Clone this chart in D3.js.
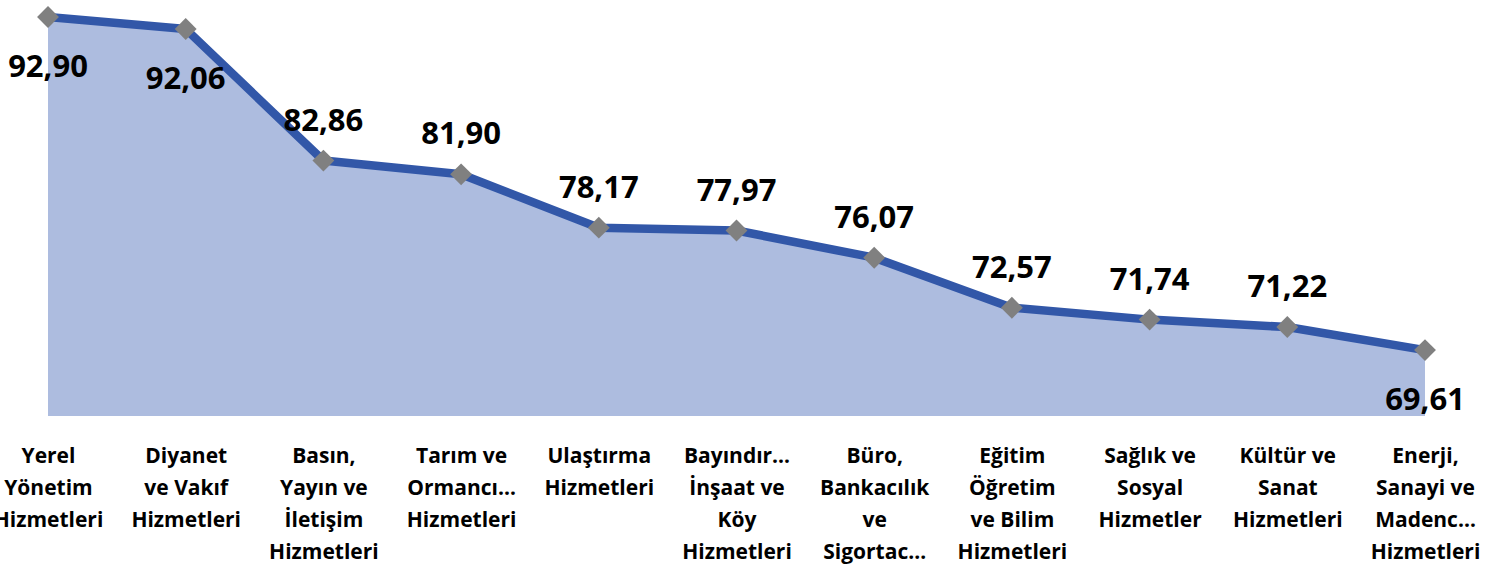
<!DOCTYPE html>
<html><head><meta charset="utf-8">
<script src="https://cdn.jsdelivr.net/npm/d3@7"></script>
<style>
html,body{margin:0;padding:0;background:#fff;}
svg{display:block;font-family:"Open Sans","Noto Sans",sans-serif;font-weight:700;}
</style></head>
<body>
<svg id="chart" width="1496" height="566"></svg>
<script>
const categories = [
  "Yerel|Yönetim|Hizmetleri",
  "Diyanet|ve Vakıf|Hizmetleri",
  "Basın,|Yayın ve|İletişim|Hizmetleri",
  "Tarım ve|Ormancı…|Hizmetleri",
  "Ulaştırma|Hizmetleri",
  "Bayındır…|İnşaat ve|Köy|Hizmetleri",
  "Büro,|Bankacılık|ve|Sigortac…",
  "Eğitim|Öğretim|ve Bilim|Hizmetleri",
  "Sağlık ve|Sosyal|Hizmetler",
  "Kültür ve|Sanat|Hizmetleri",
  "Enerji,|Sanayi ve|Madenc…|Hizmetleri"
];
const values = [92.90, 92.06, 82.86, 81.90, 78.17, 77.97, 76.07, 72.57, 71.74, 71.22, 69.61];
const valueLabels = ["92,90","92,06","82,86","81,90","78,17","77,97","76,07","72,57","71,74","71,22","69,61"];
const labelBelow = [true, true, false, false, false, false, false, false, false, false, true];
const yDomain = [65, 95];

const svg = d3.select("#chart");
const x = d3.scalePoint().domain(d3.range(categories.length)).range([48, 1425]);
const y = d3.scaleLinear().domain(yDomain).range([416, 416 - 30 * 14.3]);

const area = d3.area().x((d,i)=>x(i)).y0(y(yDomain[0])).y1(d=>y(d));
svg.append("path").datum(values).attr("d", area).attr("fill", "#ADBCDF");

const line = d3.line().x((d,i)=>x(i)).y(d=>y(d));
svg.append("path").datum(values).attr("d", line)
  .attr("fill","none").attr("stroke","#3257A8").attr("stroke-width",8.5)
  .attr("stroke-linejoin","round");

const sym = d3.symbol().type(d3.symbolDiamond2).size(305);
svg.selectAll("path.mk").data(values).join("path").attr("class","mk")
  .attr("d", sym)
  .attr("transform",(d,i)=>`translate(${x(i)},${y(d)})`)
  .attr("fill","#808080");

svg.selectAll("text.vl").data(values).join("text").attr("class","vl")
  .attr("x",(d,i)=>x(i))
  .attr("y",(d,i)=> y(d) + (labelBelow[i] ? 60 : -30))
  .attr("text-anchor","middle")
  .attr("font-size",31).attr("font-weight",700).attr("fill","#000")
  .text((d,i)=>valueLabels[i]);

const xAxis = d3.axisBottom(x).tickSize(0).tickFormat("");
const ax = svg.append("g").attr("transform","translate(0,416)").call(xAxis);
ax.select(".domain").remove();
ax.selectAll(".tick").each(function(d,i){
  const t = d3.select(this).append("text")
    .attr("text-anchor","middle").attr("fill","#000")
    .attr("font-size",21).attr("font-weight",700)
    .attr("font-family",'"Open Sans","Noto Sans",sans-serif');
  categories[i].split("|").forEach((ln,j)=>{
    t.append("tspan").attr("x",0).attr("y",47 + j*32).text(ln);
  });
});
</script>
</body></html>
